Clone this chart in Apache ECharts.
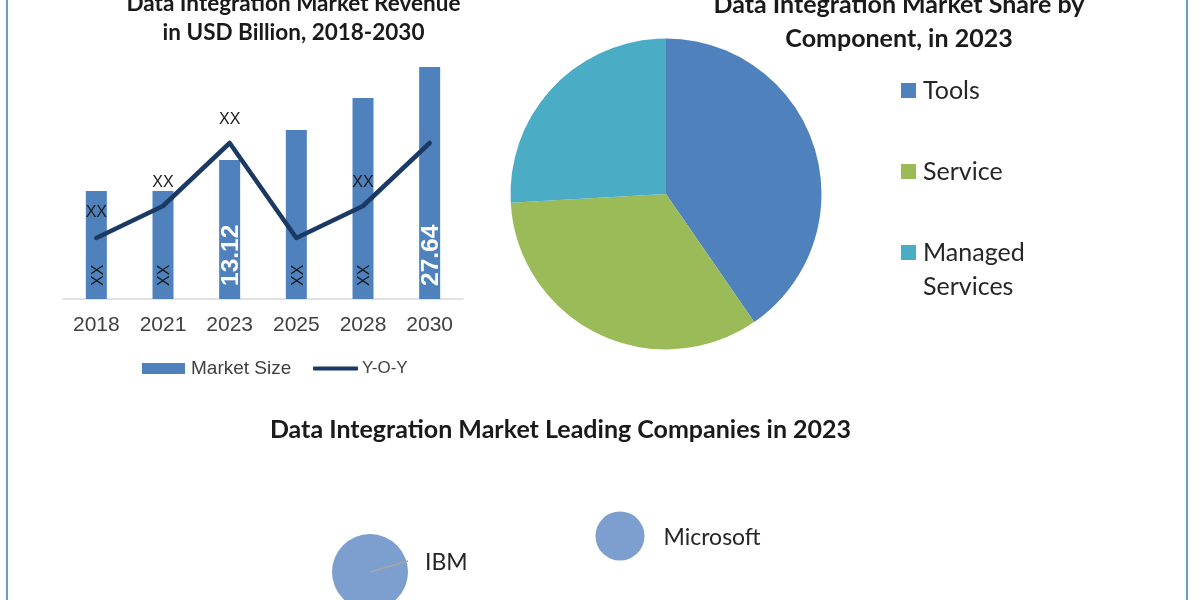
<!DOCTYPE html>
<html><head><meta charset="utf-8">
<style>html,body{margin:0;padding:0;background:#fff}#c{width:1200px;height:600px}</style>
<script src="https://cdn.jsdelivr.net/npm/echarts@6/dist/echarts.min.js"></script>
</head><body><div id="c"></div>
<script>
const years = ['2018','2021','2023','2025','2028','2030'];
const barHeights = [108,108,139,169,201,232];
const barLabels = ['XX','XX','13.12','XX','XX','27.64'];
const lineValues = [61,93,156,61,93,156];
const lineLabels = ['XX','XX','XX','','XX',''];
const shareNames = ['Tools','Service','Managed Services'];
const shareValues = [40.4,33.7,25.9];
const shareColors = ['#4F81BD','#9BBB59','#4BACC6'];
const companies = ['IBM','Microsoft'];
const companyX = [14,64];
const companyY = [28,64];
const companySize = [76,49];
const leaderX = [14,21.6];
const leaderY = [28,39];

const sans = '"Liberation Sans", Arial, sans-serif';
const head = 'Lato, "Open Sans", sans-serif';
function ttl(text, x, y, size){
  return {text, left:x, top:y, padding:0, textAlign:'center',
    textStyle:{fontFamily:head, fontSize:size, fontWeight:'bold', color:'#1a1a1a'}};
}
const chart = echarts.init(document.getElementById('c'));
chart.setOption({
  animation:false,
  backgroundColor:'#fff',
  title:[
    ttl('Data Integration Market Revenue',293.5,-7.5,22.5),
    ttl('in USD Billion, 2018-2030',293.5,21,22.5),
    ttl('Data Integration Market Share by',899,-8,25),
    ttl('Component, in 2023',899,26,25),
    ttl('Data Integration Market Leading Companies in 2023',560.5,417,25)
  ],
  grid:[
    {left:63,width:400,top:67,height:232},
    {left:300,width:500,top:500,height:100}
  ],
  xAxis:[
    {type:'category',gridIndex:0,data:years,
     axisTick:{show:false},axisLine:{lineStyle:{color:'#D9D9D9',width:1.5}},
     axisLabel:{fontFamily:sans,fontSize:21,color:'#404040',margin:16}},
    {type:'value',gridIndex:1,min:0,max:100,show:false}
  ],
  yAxis:[
    {type:'value',gridIndex:0,min:0,max:232,show:false},
    {type:'value',gridIndex:1,min:0,max:100,show:false}
  ],
  legend:[
    {left:142,top:359,padding:0,itemWidth:43,itemHeight:11,icon:'rect',
     data:['Market Size'],
     textStyle:{fontFamily:sans,fontSize:19,color:'#404040',padding:[0,0,0,1]}},
    {left:313,top:360,padding:0,itemWidth:45,itemHeight:4,icon:'roundRect',
     data:['Y-O-Y'],
     textStyle:{fontFamily:sans,fontSize:17,color:'#404040',padding:[0,0,0,-1]}},
    {left:901,top:78,padding:0,orient:'vertical',itemWidth:15,itemHeight:15,itemGap:56,icon:'rect',
     data:shareNames,
     formatter:n=>n.split(' ')[0],
     textStyle:{fontFamily:head,fontSize:25,color:'#262626',padding:[0,0,0,2]}}
  ],
  graphic:[
    {type:'rect',left:6,top:0,shape:{width:2,height:600},style:{fill:'#6C9BD2'},silent:true},
    {type:'rect',left:1186,top:0,shape:{width:2,height:600},style:{fill:'#6C9BD2'},silent:true},
    {type:'text',left:923,top:274,style:{text:'Services',fontFamily:head,fontSize:25,fill:'#262626'},silent:true}
  ],
  series:[
    {type:'bar',name:'Market Size',xAxisIndex:0,yAxisIndex:0,barWidth:21,
     itemStyle:{color:'#4F81BD'},
     data:barHeights.map((v,i)=>({value:v,label:{
       show:true,formatter:barLabels[i],rotate:90,position:'insideBottom',distance:13,
       align:'left',verticalAlign:'middle',fontFamily:sans,offset:[0,2],
       fontSize:barLabels[i]==='XX'?16:24.5,
       fontWeight:barLabels[i]==='XX'?'normal':'bold',
       color:barLabels[i]==='XX'?'#1a1a1a':'#fff'}}))},
    {type:'line',name:'Y-O-Y',xAxisIndex:0,yAxisIndex:0,symbol:'circle',symbolSize:1,
     lineStyle:{color:'#1B3A63',width:4.5,cap:'round',join:'round'},
     itemStyle:{color:'#1B3A63'},
     data:lineValues.map((v,i)=>({value:v,label:{
       show:!!lineLabels[i],formatter:lineLabels[i],position:'top',distance:i===0?17:15,
       fontFamily:sans,fontSize:16,color:'#1a1a1a'}}))},
    {type:'pie',center:[666,194],radius:155.5,startAngle:90,clockwise:true,
     label:{show:false},labelLine:{show:false},
     data:shareNames.map((n,i)=>({name:n,value:shareValues[i],itemStyle:{color:shareColors[i]}}))},
    {type:'line',xAxisIndex:1,yAxisIndex:1,symbol:'none',z:5,clip:false,
     lineStyle:{color:'#A6A6A6',width:1.5},
     data:leaderX.map((x,i)=>[x,leaderY[i]])},
    {type:'scatter',xAxisIndex:1,yAxisIndex:1,clip:false,z:3,
     itemStyle:{color:'#7C9FCF',opacity:1},
     data:companies.map((n,i)=>({name:n,value:[companyX[i],companyY[i]],symbolSize:companySize[i],
       label:{show:true,formatter:n,position:'right',
         distance:i===0?17:19,fontFamily:head,fontSize:23,color:'#262626',
         offset:i===0?[0,-9]:[0,2]}}))}
  ]
});
</script></body></html>
